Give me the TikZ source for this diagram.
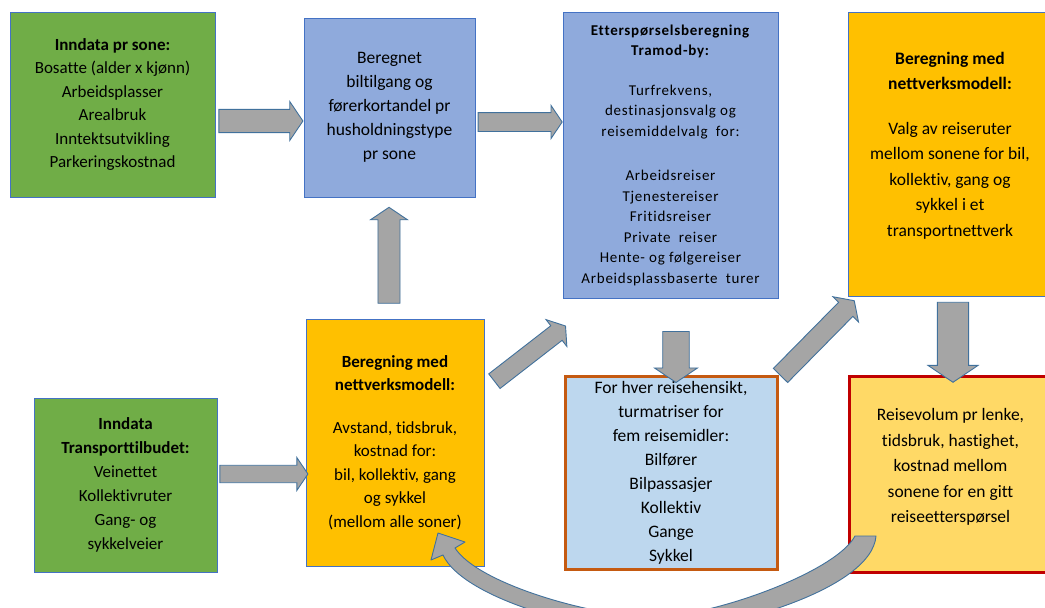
\documentclass[tikz,border=0pt]{standalone}
\usepackage{fontspec}
\setmainfont{Carlito}[Ligatures={TeX,NoCommon}]
\usepackage{tikz}
\usetikzlibrary{shapes.arrows}

\definecolor{groenn}{HTML}{70AD47}
\definecolor{blaa}{HTML}{8FAADC}
\definecolor{lyseblaa}{HTML}{BDD7EE}
\definecolor{oransje}{HTML}{FFC000}
\definecolor{gul}{HTML}{FFD966}
\definecolor{boksstrek}{HTML}{4472C4}
\definecolor{brunstrek}{HTML}{C55A11}
\definecolor{roedstrek}{HTML}{C00000}
\definecolor{pilgraa}{HTML}{A5A5A5}
\definecolor{pilstrek}{HTML}{41719C}

\begin{document}
\begin{tikzpicture}[
        x=1pt, y=-1pt,
        boks/.style={draw=boksstrek, line width=1pt, align=center, inner sep=0pt,
            font=\fontsize{17}{23.5}\selectfont},
        pil/.style={single arrow, draw=pilstrek, fill=pilgraa, line width=0.9pt,
            inner sep=0pt, text height=0pt, text depth=0pt,
            single arrow tip angle=112}
    ]
    \useasboundingbox (0,0) rectangle (1045,608);
    \clip (0,0) rectangle (1045,608);

    % Upper row of boxes
    \node[boks, fill=groenn, minimum width=205, minimum height=185] (sone) at (112.5,104.5)
        {\textbf{Inndata pr sone:}\\Bosatte (alder x kjønn)\\Arbeidsplasser\\Arealbruk\\Inntektsutvikling\\Parkeringskostnad};
    \node[boks, fill=blaa, minimum width=171, minimum height=179,
        font=\fontsize{17.5}{24}\selectfont] (bil) at (389.5,107.5)
        {Beregnet\\biltilgang og\\førerkortandel pr\\husholdningstype\\pr sone};
    \node[boks, fill=blaa, minimum width=215, minimum height=286,
        font=\fontsize{15}{20.5}\selectfont\addfontfeature{LetterSpace=5}] (tramod) at (670.5,155)
        {\textbf{Etterspørselsberegning}\\\textbf{Tramod-by:}\\[19pt]
         Turfrekvens,\\destinasjonsvalg og\\reisemiddelvalg\ \ for:\\[24pt]
         Arbeidsreiser\\Tjenestereiser\\Fritidsreiser\\Private\ \ reiser\\Hente-\ og følgereiser\\Arbeidsplassbaserte\ \ turer};
    \node[boks, fill=oransje, minimum width=204, minimum height=284,
        font=\fontsize{17.5}{25.5}\selectfont] (rute) at (950,154)
        {\textbf{Beregning med}\\\textbf{nettverksmodell:}\\[19pt]
         Valg av reiseruter\\mellom sonene for bil,\\kollektiv, gang og\\sykkel i et\\transportnettverk\\[-6pt]\mbox{}};

    % Lower row of boxes
    \node[boks, fill=groenn, minimum width=183, minimum height=174,
        font=\fontsize{17}{24}\selectfont] (tilbud) at (125.5,485)
        {\textbf{Inndata}\\\textbf{Transporttilbudet:}\\Veinettet\\Kollektivruter\\Gang- og\\sykkelveier};
    \node[boks, fill=oransje, minimum width=178, minimum height=247] (nett) at (395,442.5)
        {\textbf{Beregning med}\\\textbf{nettverksmodell:}\\[19pt]
         Avstand, tidsbruk,\\kostnad for:\\bil, kollektiv, gang\\og sykkel\\(mellom alle soner)};
    \node[boks, fill=lyseblaa, draw=brunstrek, line width=3pt, minimum width=212, minimum height=193,
        font=\fontsize{17.5}{24}\selectfont] (matrise) at (671,472.5)
        {For hver reisehensikt,\\turmatriser for\\fem reisemidler:\\Bilfører\\Bilpassasjer\\Kollektiv\\Gange\\Sykkel};
    \node[boks, fill=gul, draw=roedstrek, line width=3pt, minimum width=203, minimum height=196,
        font=\fontsize{17.5}{25.5}\selectfont] (volum) at (950.5,474)
        {Reisevolum pr lenke,\\tidsbruk, hastighet,\\kostnad mellom\\sonene for en gitt\\reiseetterspørsel\\[-9pt]\mbox{}};

    % Block arrows between the boxes
    \node[pil, minimum height=84, inner ysep=10, minimum width=39] (p1) at (257,121) {};
    \node[pil, minimum height=84, inner ysep=9, minimum width=32] (p2) at (517,122) {};
    \node[pil, minimum height=96, inner ysep=10, minimum width=37, rotate=90] (p3) at (389,259) {};
    \node[pil, minimum height=90, inner ysep=8, minimum width=34, rotate=37.8] (p4) at (527.5,355.5) {};
    \node[pil, minimum height=51, inner ysep=11, minimum width=43, rotate=-90] (p5) at (676,352.5) {};
    \node[pil, minimum height=105, inner ysep=8.5, minimum width=36, rotate=45.4] (p6) at (815,340.5) {};
    \node[pil, minimum height=80, inner ysep=11.5, minimum width=50, rotate=-90] (p7) at (953,337) {};
    \node[pil, minimum height=88, inner ysep=7.5, minimum width=33] (p8) at (261,474) {};

    % Curved return arrow from volum back to nett
    \draw[draw=pilstrek, fill=pilgraa, line width=0.9pt, line join=round]
        (455,548) -- (465,542) -- (438,533) -- (431,560) -- (443,555)
        .. controls (463,598) and (585,632) .. (653,632)
        .. controls (722,632) and (872,590) .. (876,536)
        -- (855,536)
        .. controls (836,572) and (712,617) .. (653,617)
        .. controls (594,617) and (478,584) .. (455,548) -- cycle;

\end{tikzpicture}
\end{document}
